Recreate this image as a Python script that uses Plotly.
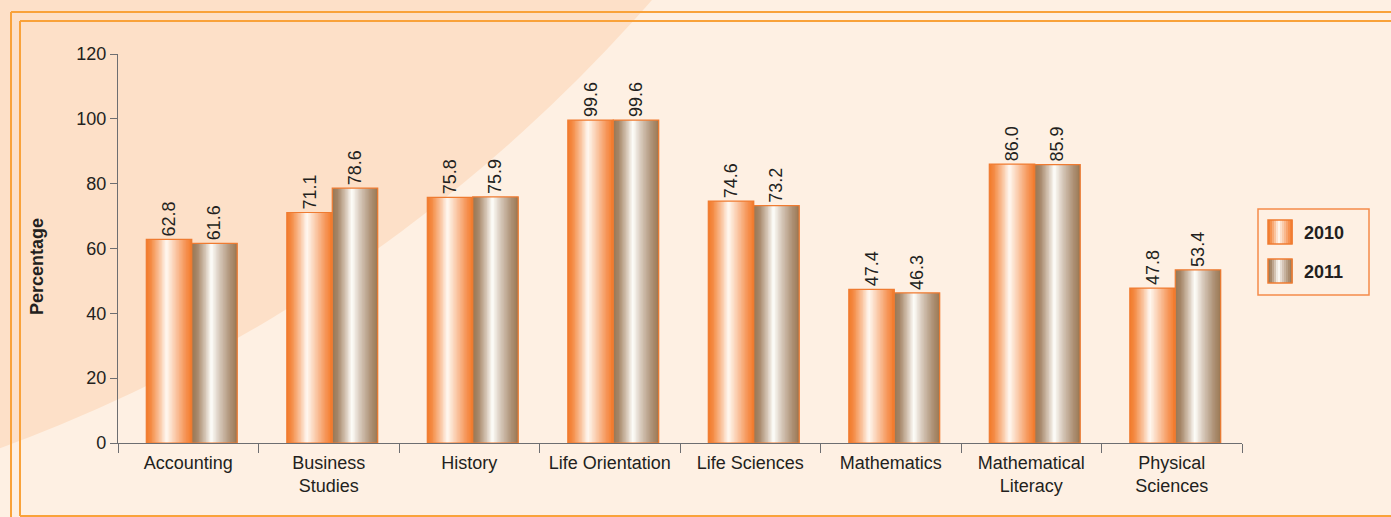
import plotly.graph_objects as go

# Pass rates per subject (%)
subjects = ["Accounting", "Business<br>Studies", "History", "Life Orientation",
            "Life Sciences", "Mathematics", "Mathematical<br>Literacy", "Physical<br>Sciences"]
pass_2010 = [62.8, 71.1, 75.8, 99.6, 74.6, 47.4, 86.0, 47.8]
pass_2011 = [61.6, 78.6, 75.9, 99.6, 73.2, 46.3, 85.9, 53.4]
series_names = ["2010", "2011"]
y_ticks = [0, 20, 40, 60, 80, 100, 120]

W, H = 1391, 517
L, R, T, B = 118, 1242, 54, 443   # plot area in pixels


def px(x):
    return (x - L) / (R - L)


def py(y):
    return (B - y) / (B - T)


def hex_to_rgb(h):
    h = h.lstrip("#")
    return tuple(int(h[i:i + 2], 16) for i in (0, 2, 4))


def sample(scale, t):
    for (t0, c0), (t1, c1) in zip(scale, scale[1:]):
        if t0 <= t <= t1:
            f = 0 if t1 == t0 else (t - t0) / (t1 - t0)
            a, b = hex_to_rgb(c0), hex_to_rgb(c1)
            r = [round(a[k] + (b[k] - a[k]) * f) for k in range(3)]
            return "rgb({},{},{})".format(*r)
    return scale[-1][1]


# cylindrical shading across each bar
shade_2010 = [(0, "#F37A2A"), (0.1, "#F48A43"), (0.3, "#FAC6A2"), (0.44, "#FFF9F2"),
              (0.6, "#FBD2B6"), (0.85, "#F69659"), (1, "#F37A2A")]
shade_2011 = [(0, "#9A7753"), (0.12, "#A58668"), (0.3, "#D6C6B6"), (0.43, "#FFFFFB"),
              (0.6, "#D9CBBE"), (0.85, "#AD9175"), (1, "#9B7854")]

bar_w = 0.3235
shift = 0.025
n_strips = 32
edge_col = "#EF7B31"
font_family = "Liberation Sans, Arial, sans-serif"

fig = go.Figure()

for vals, shade, left in [(pass_2010, shade_2010, -bar_w + shift),
                          (pass_2011, shade_2011, shift)]:
    sw = bar_w / n_strips
    for i in range(n_strips):
        col = sample(shade, (i + 0.5) / n_strips)
        w = sw * 2 if i < n_strips - 1 else sw
        fig.add_trace(go.Bar(
            x=subjects, y=vals, offset=left + i * sw, width=w,
            marker=dict(color=col, line=dict(width=0)),
            hoverinfo="skip", showlegend=False))
    fig.add_trace(go.Bar(
        x=subjects, y=vals, offset=left, width=bar_w,
        marker=dict(color="rgba(0,0,0,0)", line=dict(color=edge_col, width=1.2)),
        text=[f"{v:.1f}" for v in vals], textposition="outside", textangle=-90,
        constraintext="none",
        textfont=dict(size=18, color="#231F20", family=font_family),
        cliponaxis=False, hoverinfo="skip", showlegend=False))

shapes = []
# background arc
shapes.append(dict(type="circle", xref="paper", yref="paper",
                   x0=px(-2146), x1=px(1046), y0=py(546), y1=py(-2646),
                   fillcolor="#FDE0C8", line=dict(width=0), layer="below"))
# double frame lines
frame = "#F9A23A"
for (x0, y0, x1, y1) in [(11, 12, W, 12), (11, 12, 11, H), (20, 21, W, 21),
                         (20, 21, 20, 516), (20, 516, W, 516)]:
    shapes.append(dict(type="line", xref="paper", yref="paper",
                       x0=px(x0), y0=py(y0), x1=px(x1), y1=py(y1),
                       line=dict(color=frame, width=2), layer="below"))

# legend box and gradient swatches
shapes.append(dict(type="rect", xref="paper", yref="paper",
                   x0=px(1258), x1=px(1369), y0=py(295), y1=py(209),
                   line=dict(color="#F58B4B", width=1.5)))
annotations = []
for shade, top, name in [(shade_2010, 220, series_names[0]), (shade_2011, 259, series_names[1])]:
    sx0, sx1 = 1268, 1292
    n = 12
    step = (sx1 - sx0) / n
    for i in range(n):
        shapes.append(dict(type="rect", xref="paper", yref="paper",
                           x0=px(sx0 + i * step), x1=px(sx0 + (i + 1) * step + 0.6),
                           y0=py(top + 24), y1=py(top),
                           fillcolor=sample(shade, (i + 0.5) / n), line=dict(width=0)))
    shapes.append(dict(type="rect", xref="paper", yref="paper",
                       x0=px(sx0), x1=px(sx1), y0=py(top + 24), y1=py(top),
                       line=dict(color=edge_col, width=1.5)))
    annotations.append(dict(text=f"<b>{name}</b>", xref="paper", yref="paper",
                            x=px(1302), y=py(top + 13), xanchor="left", yanchor="middle",
                            showarrow=False, font=dict(size=18, color="#231F20")))

annotations.append(dict(text="<b>Percentage</b>", xref="paper", yref="paper",
                        x=px(37), y=py(267), xanchor="center", yanchor="middle",
                        textangle=-90, showarrow=False,
                        font=dict(size=18, color="#231F20")))

axis_col = "#6D6E71"
fig.update_layout(
    width=W, height=H,
    margin=dict(l=L, r=W - R, t=T, b=H - B, pad=0),
    paper_bgcolor="#FEF0E3", plot_bgcolor="rgba(0,0,0,0)",
    barmode="overlay", showlegend=False,
    font=dict(family=font_family, size=18, color="#231F20"),
    shapes=shapes, annotations=annotations,
    xaxis=dict(type="category", range=[-0.5, 7.5], tickson="boundaries",
               ticks="outside", ticklen=9, tickwidth=1.2, tickcolor=axis_col,
               showline=True, linecolor=axis_col, linewidth=1.2, ticklabelstandoff=3,
               showgrid=False, zeroline=False, tickfont=dict(size=18)),
    yaxis=dict(range=[0, 120], tickvals=y_ticks, ticks="outside", ticklen=7,
               tickwidth=1.2, tickcolor=axis_col, showline=True, linecolor=axis_col,
               linewidth=1.2, showgrid=False, zeroline=False, tickfont=dict(size=18)),
)

fig.write_html("out.html")
